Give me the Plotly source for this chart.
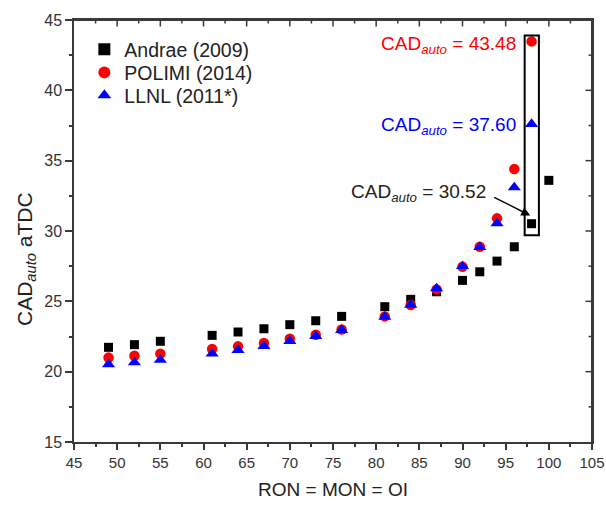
import plotly.graph_objects as go

x_andrae = [49, 52, 55, 61, 64, 67, 70, 73, 76, 81, 84, 87, 90, 92, 94, 96, 98, 100]
y_andrae = [21.73, 21.92, 22.16, 22.58, 22.82, 23.05, 23.34, 23.62, 23.93, 24.62,
            25.14, 25.68, 26.49, 27.10, 27.86, 28.88, 30.52, 33.60]
x_polimi = [49, 52, 55, 61, 64, 67, 70, 73, 76, 81, 84, 87, 90, 92, 94, 96, 98]
y_polimi = [21.00, 21.13, 21.28, 21.61, 21.80, 22.04, 22.34, 22.63, 23.00, 23.93,
            24.74, 25.85, 27.46, 28.88, 30.90, 34.40, 43.48]
x_llnl = [49, 52, 55, 61, 64, 67, 70, 73, 76, 81, 84, 87, 90, 92, 94, 96, 98]
y_llnl = [20.52, 20.66, 20.83, 21.28, 21.54, 21.82, 22.18, 22.53, 22.96, 23.90,
          24.75, 25.92, 27.50, 28.85, 30.55, 33.10, 37.60]

X_RANGE = [45, 105]
Y_RANGE = [15, 45]

FONT = "Arial, Liberation Sans, sans-serif"
AX = "#3a3a3a"
TXT = "#222222"
W, H = 606, 506
ML, MR, MT, MB = 74, 14, 20, 64
PW, PH = W - ML - MR, H - MT - MB

fig = go.Figure()
fig.add_trace(go.Scatter(x=x_andrae, y=y_andrae, mode="markers", name="Andrae (2009)",
                         legend="legend",
                         marker=dict(symbol="square", size=9, color="black")))
fig.add_trace(go.Scatter(x=x_polimi, y=y_polimi, mode="markers", name="POLIMI (2014)",
                         legend="legend2",
                         marker=dict(symbol="circle", size=10.5, color="red")))
fig.add_trace(go.Scatter(x=x_llnl, y=y_llnl, mode="markers", name="LLNL (2011*)",
                         legend="legend3",
                         marker=dict(symbol="triangle-up", size=11.5, color="blue")))

common = dict(showline=True, linecolor=AX, linewidth=1.5, showgrid=False, zeroline=False,
              tickcolor=AX, tickwidth=1.5, dtick=5, automargin=False, mirror=True)
minor = dict(dtick=2.5, ticks="outside", ticklen=3.5, tickcolor=AX, tickwidth=1.5)


def leg(row_px):
    return dict(x=0.02, y=(PH + MT - row_px) / PH, xanchor="left", yanchor="middle",
                font=dict(family=FONT, size=19.5, color=TXT),
                bgcolor="rgba(0,0,0,0)", itemsizing="constant")


fig.update_layout(
    width=W, height=H,
    margin=dict(l=ML, r=MR, t=MT, b=MB),
    paper_bgcolor="white", plot_bgcolor="white",
    font=dict(family=FONT, size=16, color=TXT),
    showlegend=True,
    legend=leg(49.5), legend2=leg(72.7), legend3=leg(95.5),
    xaxis=dict(range=X_RANGE, ticks="outside", ticklen=6.5, tick0=45,
               tickfont=dict(family=FONT, size=15, color="#333333"), minor=minor,
               title=dict(text="RON = MON = OI", font=dict(family=FONT, size=19, color=TXT),
                          standoff=12),
               **common),
    yaxis=dict(range=Y_RANGE, ticks="outside", ticklen=7, tick0=15,
               tickfont=dict(family=FONT, size=16, color="#333333"), minor=minor,
               **common),
)

# top and right spines (paper coordinates)
fig.add_shape(type="line", xref="paper", yref="paper", x0=0, x1=1, y0=1, y1=1,
              line=dict(color=AX, width=2))
fig.add_shape(type="line", xref="paper", yref="paper", x0=1, x1=1, y0=0, y1=1,
              line=dict(color=AX, width=2))

# inward ticks on top and right spines (major every 5, minor every 2.5)
x_ticks = [X_RANGE[0] + 2.5 * i for i in range(int((X_RANGE[1] - X_RANGE[0]) / 2.5) + 1)]
y_ticks = [Y_RANGE[0] + 2.5 * i for i in range(int((Y_RANGE[1] - Y_RANGE[0]) / 2.5) + 1)]
for i, v in enumerate(x_ticks[1:-1], start=1):
    ln = 6.5 if i % 2 == 0 else 3.5
    px = (v - X_RANGE[0]) / (X_RANGE[1] - X_RANGE[0])
    fig.add_shape(type="line", xref="paper", yref="paper", x0=px, x1=px,
                  y0=1, y1=1 - ln / PH, line=dict(color=AX, width=1.5))
for i, v in enumerate(y_ticks[1:-1], start=1):
    ln = 6.5 if i % 2 == 0 else 3.5
    py = (v - Y_RANGE[0]) / (Y_RANGE[1] - Y_RANGE[0])
    fig.add_shape(type="line", xref="paper", yref="paper", x0=1, x1=1 - ln / PW,
                  y0=py, y1=py, line=dict(color=AX, width=1.5))

fig.add_shape(type="rect", xref="x", yref="y", x0=97.2, x1=98.85, y0=29.7, y1=43.9,
              line=dict(color="black", width=2), fillcolor="rgba(0,0,0,0)")

fig.add_annotation(x=(26 - ML) / PW, y=(PH + MT - 259) / PH, xref="paper", yref="paper",
                   xanchor="center", yanchor="middle", textangle=-90, showarrow=False,
                   text="CAD<sub><i>auto</i></sub> aTDC",
                   font=dict(family=FONT, size=21, color=TXT))

fig.add_annotation(x=96.45, y=43.2, xref="x", yref="y", xanchor="right", yanchor="middle",
                   text="CAD<sub><i>auto</i></sub> = 43.48", showarrow=False,
                   font=dict(family=FONT, size=19, color="red"))
fig.add_annotation(x=96.45, y=37.45, xref="x", yref="y", xanchor="right", yanchor="middle",
                   text="CAD<sub><i>auto</i></sub> = 37.60", showarrow=False,
                   font=dict(family=FONT, size=19, color="blue"))
fig.add_annotation(x=92.95, y=32.7, xref="x", yref="y", xanchor="right", yanchor="middle",
                   text="CAD<sub><i>auto</i></sub> = 30.52", showarrow=False,
                   font=dict(family=FONT, size=19, color=TXT))
fig.add_annotation(x=97.85, y=31.1, xref="x", yref="y", axref="x", ayref="y",
                   ax=93.5, ay=32.45, text="", showarrow=True, arrowhead=2,
                   arrowsize=1.2, arrowwidth=1.5, arrowcolor="black")

fig.write_html("out.html")
